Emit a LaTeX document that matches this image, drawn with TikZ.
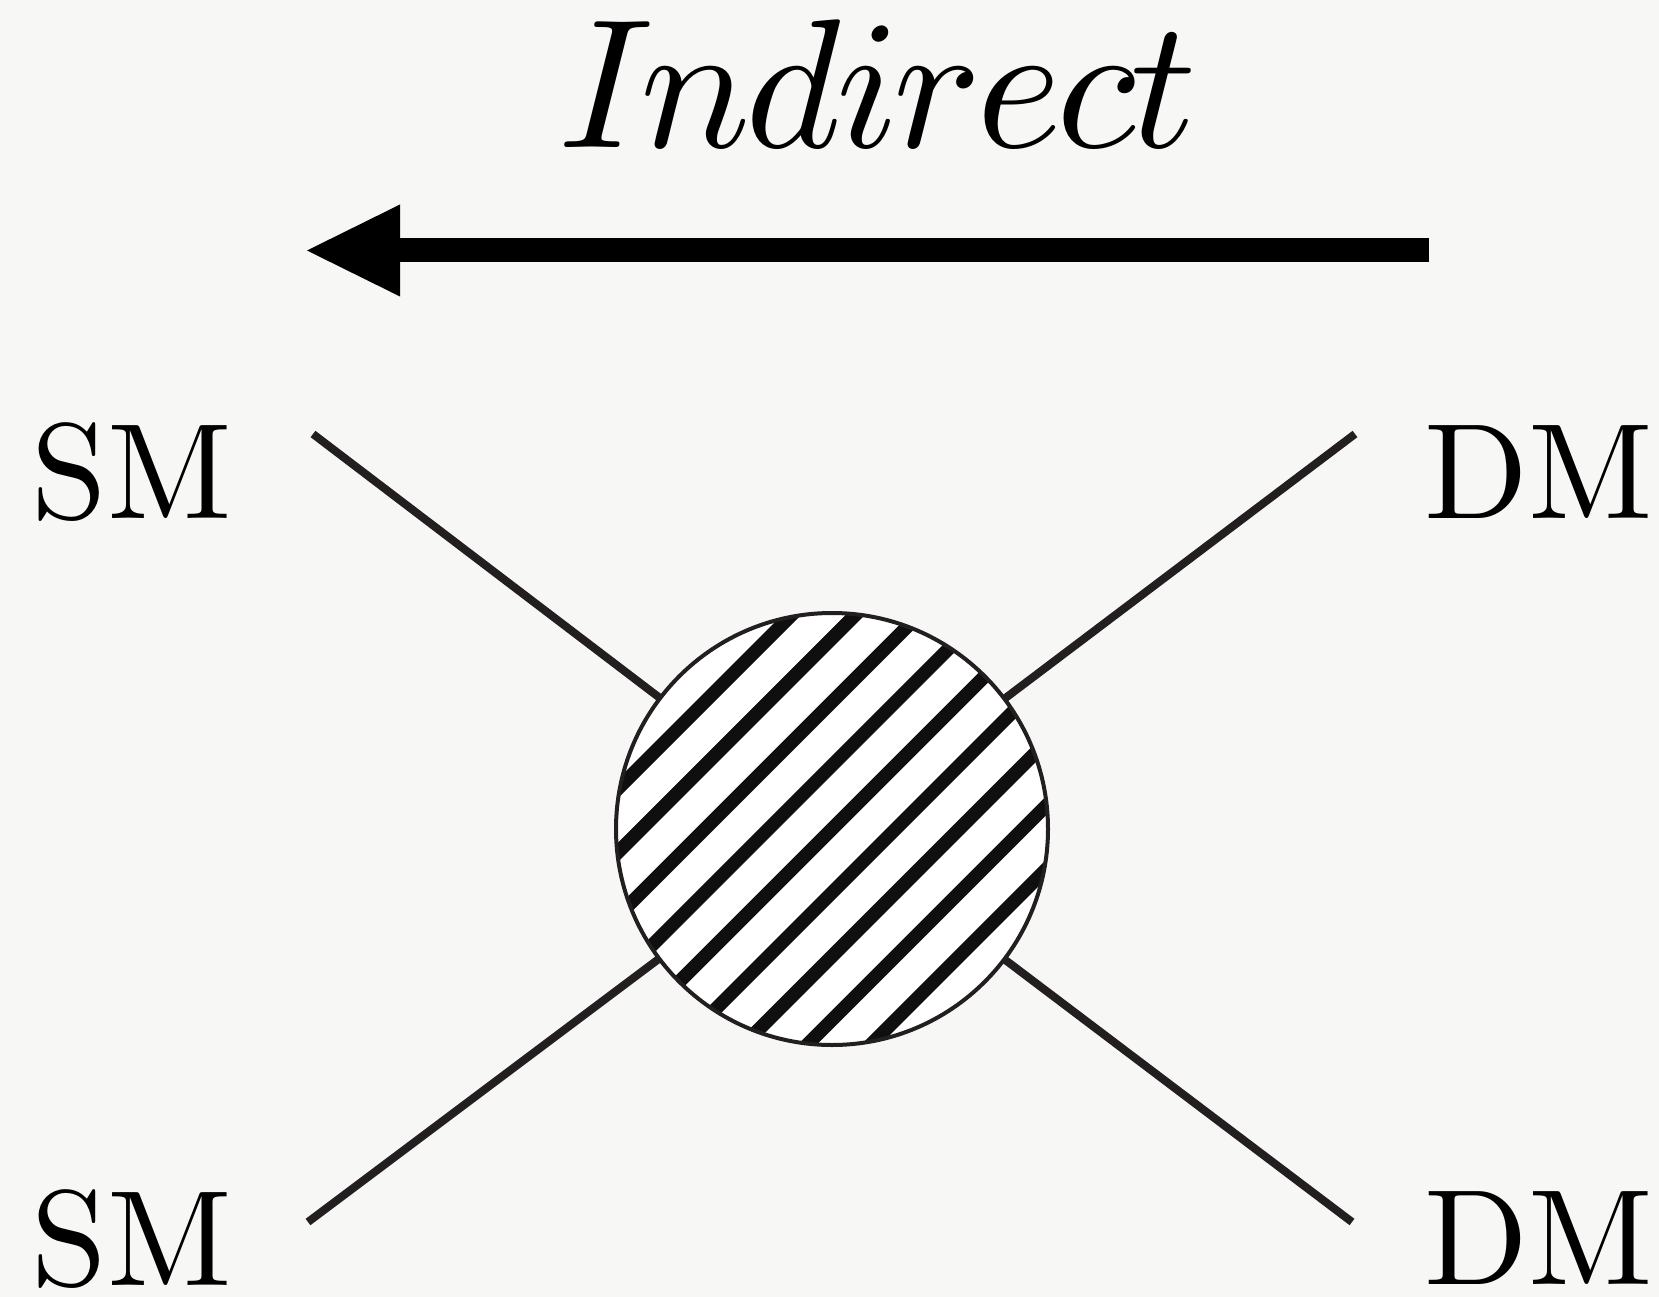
\documentclass[tikz,border=0pt]{standalone}
\usetikzlibrary{calc}
\definecolor{bgc}{RGB}{247,247,245}
\definecolor{linec}{RGB}{35,31,32}
\definecolor{stripec}{RGB}{15,15,15}
\begin{document}
\begin{tikzpicture}[x=1pt,y=-1pt,
  leg/.style={draw=linec,line width=8pt},
  stripe/.style={draw=stripec,line width=13.5pt},
  lbl/.style={inner sep=0pt,anchor=base,scale=13.6},
  title/.style={inner sep=0pt,anchor=base,scale=18.4}]
\fill[bgc] (0,0) rectangle (1659,1297);
\useasboundingbox (0,0) rectangle (1659,1297);
% title and arrow
\node[title] (ttl) at (878,148) {$I\kern-0.7pt n\kern-0.3pt d\kern-0.3pt i\kern-0.3pt r\kern-0.3pt e\kern-0.3pt c\kern-0.3pt t$};
\coordinate (ashaftR) at (1429,250.5);
\coordinate (ashaftL) at (400,250.5);
\draw[line width=24pt,black] (ashaftR) -- (ashaftL);
\fill[black] (307,250.5) -- (400,204.5) -- (400,296.5) -- cycle;
% labels
\node[lbl] (sm1) at (132,518) {SM};
\node[lbl] (dm1) at (1539,518) {DM};
\node[lbl] (sm2) at (132,1285) {SM};
\node[lbl] (dm2) at (1539,1284) {DM};
% blob
\node[circle,fill=white,minimum size=432pt,inner sep=0pt,outer sep=0pt] (blob) at (832,829) {};
\coordinate (ul) at (313,434);
\coordinate (ur) at (1355,434);
\coordinate (ll) at (308,1222);
\coordinate (lr) at (1352,1222);
\draw[leg] (ul) -- (blob);
\draw[leg] (ur) -- (blob);
\draw[leg] (ll) -- (blob);
\draw[leg] (lr) -- (blob);
\begin{scope}
  \clip (blob.center) circle[radius=216pt];
  \foreach \k in {-4,...,4}{
    \draw[stripe] ($(blob.center)+(\k*31.8,\k*31.8)+(-300,300)$) -- ($(blob.center)+(\k*31.8,\k*31.8)+(300,-300)$);
  }
\end{scope}
\draw[draw=linec,line width=4pt] (blob.center) circle[radius=216pt];
\end{tikzpicture}
\end{document}
